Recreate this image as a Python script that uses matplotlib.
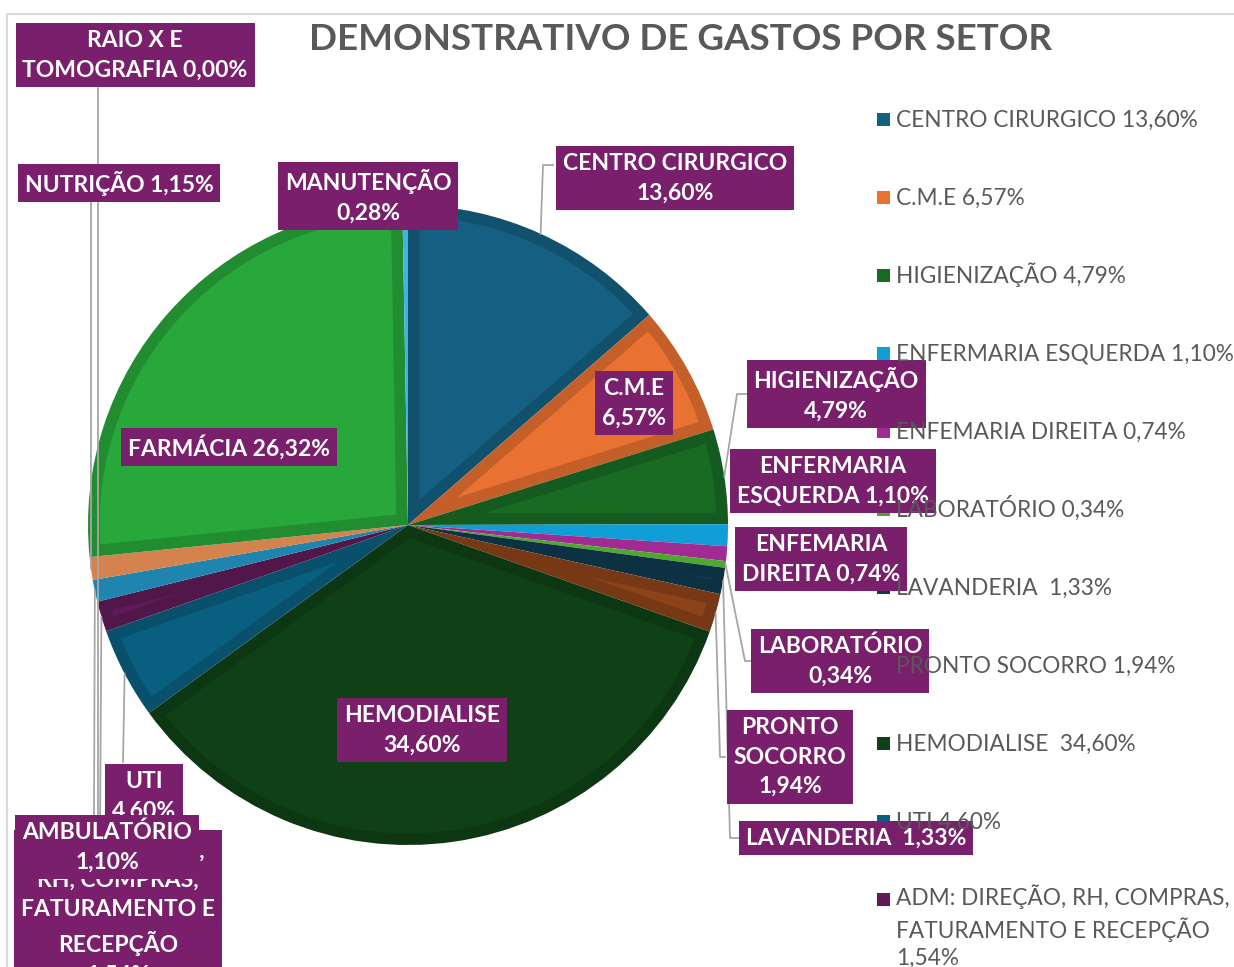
import textwrap
import numpy as np
import matplotlib
matplotlib.use("Agg")
import matplotlib.pyplot as plt
from matplotlib.colors import to_rgb
from matplotlib.lines import Line2D
from matplotlib.patches import Rectangle, Polygon

plt.rcParams['font.family'] = ['Lato', 'DejaVu Sans']

# ---- data ----
sectors = ["CENTRO CIRURGICO", "C.M.E", "HIGIENIZAÇÃO", "ENFERMARIA ESQUERDA",
           "ENFEMARIA DIREITA", "LABORATÓRIO", "LAVANDERIA ", "PRONTO SOCORRO",
           "HEMODIALISE ", "UTI", "ADM: DIREÇÃO, RH, COMPRAS, FATURAMENTO E RECEPÇÃO",
           "AMBULATÓRIO", "NUTRIÇÃO", "FARMÁCIA", "MANUTENÇÃO", "RAIO X E TOMOGRAFIA"]
shares = [13.60, 6.57, 4.79, 1.10, 0.74, 0.34, 1.33, 1.94,
          34.60, 4.60, 1.54, 1.10, 1.15, 26.32, 0.28, 0.00]
# data label wording (line breaks as shown on the chart)
label_names = ["CENTRO CIRURGICO\n", "C.M.E\n", "HIGIENIZAÇÃO\n", "ENFERMARIA\nESQUERDA ",
               "ENFEMARIA\nDIREITA ", "LABORATÓRIO\n", "LAVANDERIA  ", "PRONTO\nSOCORRO\n",
               "HEMODIALISE\n", "UTI\n", "ADM: DIREÇÃO,\nRH, COMPRAS,\nFATURAMENTO E\nRECEPÇÃO\n",
               "AMBULATÓRIO\n", "NUTRIÇÃO ", "FARMÁCIA ", "MANUTENÇÃO\n", "RAIO X E\nTOMOGRAFIA "]

colors = ["#156082", "#E97132", "#196B24", "#0F9ED5", "#A02B93", "#4EA72E",
          "#0D3A4E", "#8C4319", "#0F4016", "#095F80", "#601A58",
          "#1F84AE", "#D4834F", "#28A73A", "#3DB3E6", "#C851B8"]

W, H = 1234, 967


def fx(px):
    return px / W


def fy(py):
    return 1 - py / H


def pct(v):
    return f"{v:.2f}%".replace(".", ",")


def darker(c, f=0.84):
    r, g, b = to_rgb(c)
    return (r * f, g * f, b * f)


fig = plt.figure(figsize=(12.34, 9.67), dpi=100)

# chart area border
fig.patches.append(Rectangle((fx(7), -0.1), 2, fy(14) + 0.1, transform=fig.transFigure,
                             fill=False, ec="#d9d9d9", lw=1.5))

ax = fig.add_axes([fx(88), fy(845), 640 / W, 640 / H])
wedges, _ = ax.pie(shares, colors=colors, startangle=90, counterclock=False, radius=1,
                   wedgeprops=dict(linewidth=0))

# bevel look: darker rim, inner face inset by d
d = 0.036
Rin = 1 - d
for w, c in zip(wedges, colors):
    t1, t2 = np.deg2rad(w.theta1), np.deg2rad(w.theta2)
    half = (t2 - t1) / 2
    if half <= 0:
        continue
    apex = d / np.sin(half)
    if apex >= Rin * 0.9:
        continue
    dl = np.arcsin(d / Rin)
    mid = (t1 + t2) / 2
    arc = np.linspace(t1 + dl, t2 - dl, 60)
    pts = [(apex * np.cos(mid), apex * np.sin(mid))] + [(Rin * np.cos(a), Rin * np.sin(a)) for a in arc]
    w.set_facecolor(darker(c))
    ax.add_patch(Polygon(pts, closed=True, fc=c, ec="none"))

ax.set_xlim(-1, 1)
ax.set_ylim(-1, 1)
ax.set_aspect("equal")
ax.axis("off")

fig.text(fx(681), fy(40), "DEMONSTRATIVO DE GASTOS POR SETOR", ha="center", va="center",
         fontsize=26.5, weight="bold", color="#595959")

# ---- data labels ----
label_pos = [(675, 178), (634, 403), (836, 394), (833, 481), (821, 559), (840, 661),
             (856, 838), (790, 757), (422, 730), (144, 796), (118, 911), (107, 847),
             (119, 183), (229, 447), (368, 196), (135, 55)]
purple = "#7A1F6C"

# leader lines: None at start = point on the slice edge
leaders = {
    0: [None, (543, 165), (553, 165)],
    2: [None, (737, 394), (746, 394)],
    5: [None, (745, 661), (753, 661)],
    6: [None, (730, 838), (738, 838)],
    7: [None, (720, 757), (725, 757)],
    9: [None, (123, 762)],
    10: [None, (100, 834)],
    11: [None, (94, 814)],
    12: [None, (91, 201)],
    15: [(98, 88), (98, 814)],
}
inv = fig.transFigure.inverted()
for i, pts in leaders.items():
    w = wedges[i]
    mid = np.deg2rad((w.theta1 + w.theta2) / 2)
    ex, ey = inv.transform(ax.transData.transform((np.cos(mid), np.sin(mid))))
    xs, ys = [], []
    for p in pts:
        if p is None:
            xs.append(ex)
            ys.append(ey)
        else:
            xs.append(fx(p[0]))
            ys.append(fy(p[1]))
    fig.lines.append(Line2D(xs, ys, transform=fig.transFigure, color="#a6a6a6", lw=1.3))

order = [0, 1, 2, 3, 4, 5, 6, 7, 8, 13, 14, 15, 12, 9, 10, 11]
for i in order:
    x, y = label_pos[i]
    fig.text(fx(x), fy(y), label_names[i] + pct(shares[i]), ha="center", va="center",
             ma="center", fontsize=16.5, weight="bold", color="white", linespacing=1.5,
             bbox=dict(boxstyle="square,pad=0.3", fc=purple, ec="none"))

# ---- legend ----
ly = 119
for name, v, c in zip(sectors, shares, colors):
    if ly > H:
        break
    txt = f"{name} {pct(v)}"
    if len(txt) > 26:
        txt = textwrap.fill(txt, 26)
    nl = txt.count("\n")
    fig.patches.append(Rectangle((fx(877), fy(ly + 7)), 13 / W, 13 / H,
                                 transform=fig.transFigure, fc=c, ec="none"))
    # baseline of a multi-line text is that of its last line
    fig.text(fx(896), fy(ly + 8 + 29 * nl), txt, ha="left", va="baseline", fontsize=16.3,
             color="#595959", linespacing=1.38)
    ly += 78 + 29 * nl

fig.savefig("out.png", dpi=100)
